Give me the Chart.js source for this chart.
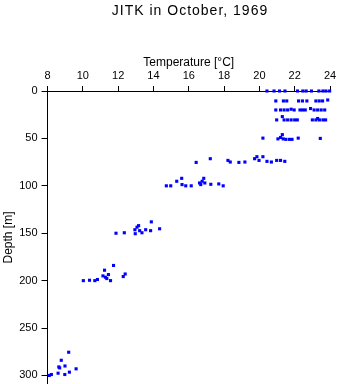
<!DOCTYPE html>
<html>
<head>
<meta charset="utf-8">
<script src="https://cdn.jsdelivr.net/npm/chart.js@4/dist/chart.umd.min.js"></script>
<style>
  html, body { margin: 0; padding: 0; background: #fff; }
  #wrap { width: 341px; height: 384px; }
  canvas { display: block; }
</style>
</head>
<body>
<div id="wrap"><canvas id="grafico"></canvas></div>
<script>
// Dados (temperatura em °C, profundidade em m)
const titulo = 'JITK in October, 1969';
const xTicks = [8, 10, 12, 14, 16, 18, 20, 22, 24];
const yTicks = [0, 50, 100, 150, 200, 250, 300];

const temperatura = [
    // ~0 m
    20.43, 20.83, 21.14, 21.45, 22.16, 22.46, 22.65, 22.95, 23.37, 23.6, 23.77, 23.98,
    // ~10 m
    20.93, 21.36, 21.55, 22.22, 22.44, 22.69, 23.2, 23.39, 23.58, 23.87,
    // ~20 m
    20.93, 21.2, 21.4, 21.6, 21.8, 21.97, 22.3, 22.45, 22.6, 22.9, 23.1, 23.3, 23.5, 23.7,
    // ~30 m
    20.98, 21.3, 21.4, 21.6, 21.8, 22.0, 22.15, 23.0, 23.2, 23.3, 23.4, 23.6, 23.75,
    // ~50 m
    20.2, 21.05, 21.2, 21.3, 21.35, 21.5, 21.7, 21.85, 22.2, 23.45,
    // ~75 m
    16.42, 17.22, 18.22, 18.35, 18.84, 19.18, 19.73, 19.86, 19.98, 20.2, 20.43, 20.68, 20.98, 21.2, 21.44,
    // ~100 m
    14.73, 14.98, 15.32, 15.6, 15.62, 15.83, 16.14, 16.61, 16.68, 16.76, 16.85, 16.91, 17.25, 17.7, 17.95,
    // ~150 m
    11.88, 12.35, 12.95, 12.97, 13.07, 13.16, 13.22, 13.35, 13.56, 13.84, 13.88, 14.35,
    // ~200 m
    10.03, 10.38, 10.68, 10.83, 11.14, 11.23, 11.28, 11.36, 11.45, 11.57, 11.74, 12.29, 12.4,
    // ~300 m
    8.1, 8.22, 8.6, 8.64, 8.69, 8.78, 8.99, 8.98, 9.2, 9.24, 9.62
];

const profundidade = [
    0, 0, 0, 0, 0, 0, 0, 0, 0, 0, 0, 0,
    10.5, 10.5, 10.5, 10.5, 10.5, 10.5, 10.5, 10.5, 10.5, 9.5,
    20, 20, 20, 20, 19.2, 20, 20, 20, 20, 18.5, 20, 20, 20, 20,
    30.5, 27, 30.5, 30.5, 30.5, 30.5, 30.5, 30.5, 30.5, 29, 30.5, 30.5, 30.5,
    49.7, 50.5, 49, 46, 50.5, 51, 51, 51, 49.7, 50,
    75.3, 71.4, 73.2, 74.9, 75.3, 74.9, 71.4, 69.3, 73.2, 69.3, 74.2, 74.9, 73.2, 73.2, 74.2,
    100, 100, 95.2, 92.1, 98.7, 100, 100, 97, 98.7, 95.2, 92.1, 97, 98.4, 98, 100,
    150, 149.5, 146.3, 150.5, 143.6, 142, 147.3, 149.5, 146.3, 147.3, 138, 145.3,
    200, 199.6, 200, 198.8, 195, 189, 196.4, 197.8, 193.6, 200, 184, 195.7, 193,
    300, 299, 297.6, 291, 292, 284, 290, 299, 275.5, 296.5, 293
];

const fonte = '"Liberation Sans", Arial, sans-serif';

// Título desenhado à mão
const tituloPlugin = {
    id: 'tituloPlugin',
    afterDraw(chart) {
        const ctx = chart.ctx;
        ctx.save();
        ctx.fillStyle = '#000';
        ctx.font = '14px ' + fonte;
        ctx.letterSpacing = '1px';
        ctx.textAlign = 'center';
        ctx.textBaseline = 'middle';
        ctx.fillText(titulo, 190, 11);
        ctx.restore();
    }
};

const ctx = document.getElementById('grafico').getContext('2d');
const grafico = new Chart(ctx, {
    type: 'scatter',
    data: {
        datasets: [{
            data: temperatura.map((t, i) => ({ x: t, y: profundidade[i] })),
            backgroundColor: '#0000ff',
            borderWidth: 0,
            pointStyle: 'rect',
            pointRadius: 2.2,
            pointHoverRadius: 2.2,
            clip: false
        }]
    },
    plugins: [tituloPlugin],
    options: {
        responsive: true,
        maintainAspectRatio: false,
        animation: false,
        layout: { autoPadding: false, padding: { top: 0, left: 0, right: 11, bottom: 0 } },
        plugins: {
            legend: { display: false },
            tooltip: { enabled: false }
        },
        scales: {
            x: {
                type: 'linear',
                position: 'top',
                min: 8,
                max: 24,
                afterBuildTicks: axis => { axis.ticks = xTicks.map(v => ({ value: v })); },
                afterFit: axis => {
                    axis.height = 91;
                    axis.paddingLeft = 0;
                    axis.paddingRight = 0;
                },
                ticks: { color: '#000', font: { family: fonte, size: 11 }, padding: 3, maxRotation: 0 },
                grid: { drawOnChartArea: false, drawTicks: true, tickLength: 5, color: '#000' },
                border: { display: true, color: '#000', width: 1 },
                title: {
                    display: true,
                    text: 'Temperature [°C]',
                    color: '#000',
                    font: { family: fonte, size: 12 },
                    padding: { top: 55, bottom: 0 }
                }
            },
            y: {
                type: 'linear',
                reverse: true,
                min: 0,
                max: 309,
                afterBuildTicks: axis => { axis.ticks = yTicks.map(v => ({ value: v })); },
                afterFit: axis => {
                    axis.width = 47.5;
                    axis.paddingTop = 0;
                    axis.paddingBottom = 0;
                },
                ticks: { color: '#000', font: { family: fonte, size: 11 }, padding: 4 },
                grid: { drawOnChartArea: false, drawTicks: true, tickLength: 6, color: '#000' },
                border: { display: true, color: '#000', width: 1 },
                title: {
                    display: true,
                    text: 'Depth [m]',
                    color: '#000',
                    font: { family: fonte, size: 12 },
                    padding: { top: 1, bottom: 0 }
                }
            }
        }
    }
});
</script>
</body>
</html>
